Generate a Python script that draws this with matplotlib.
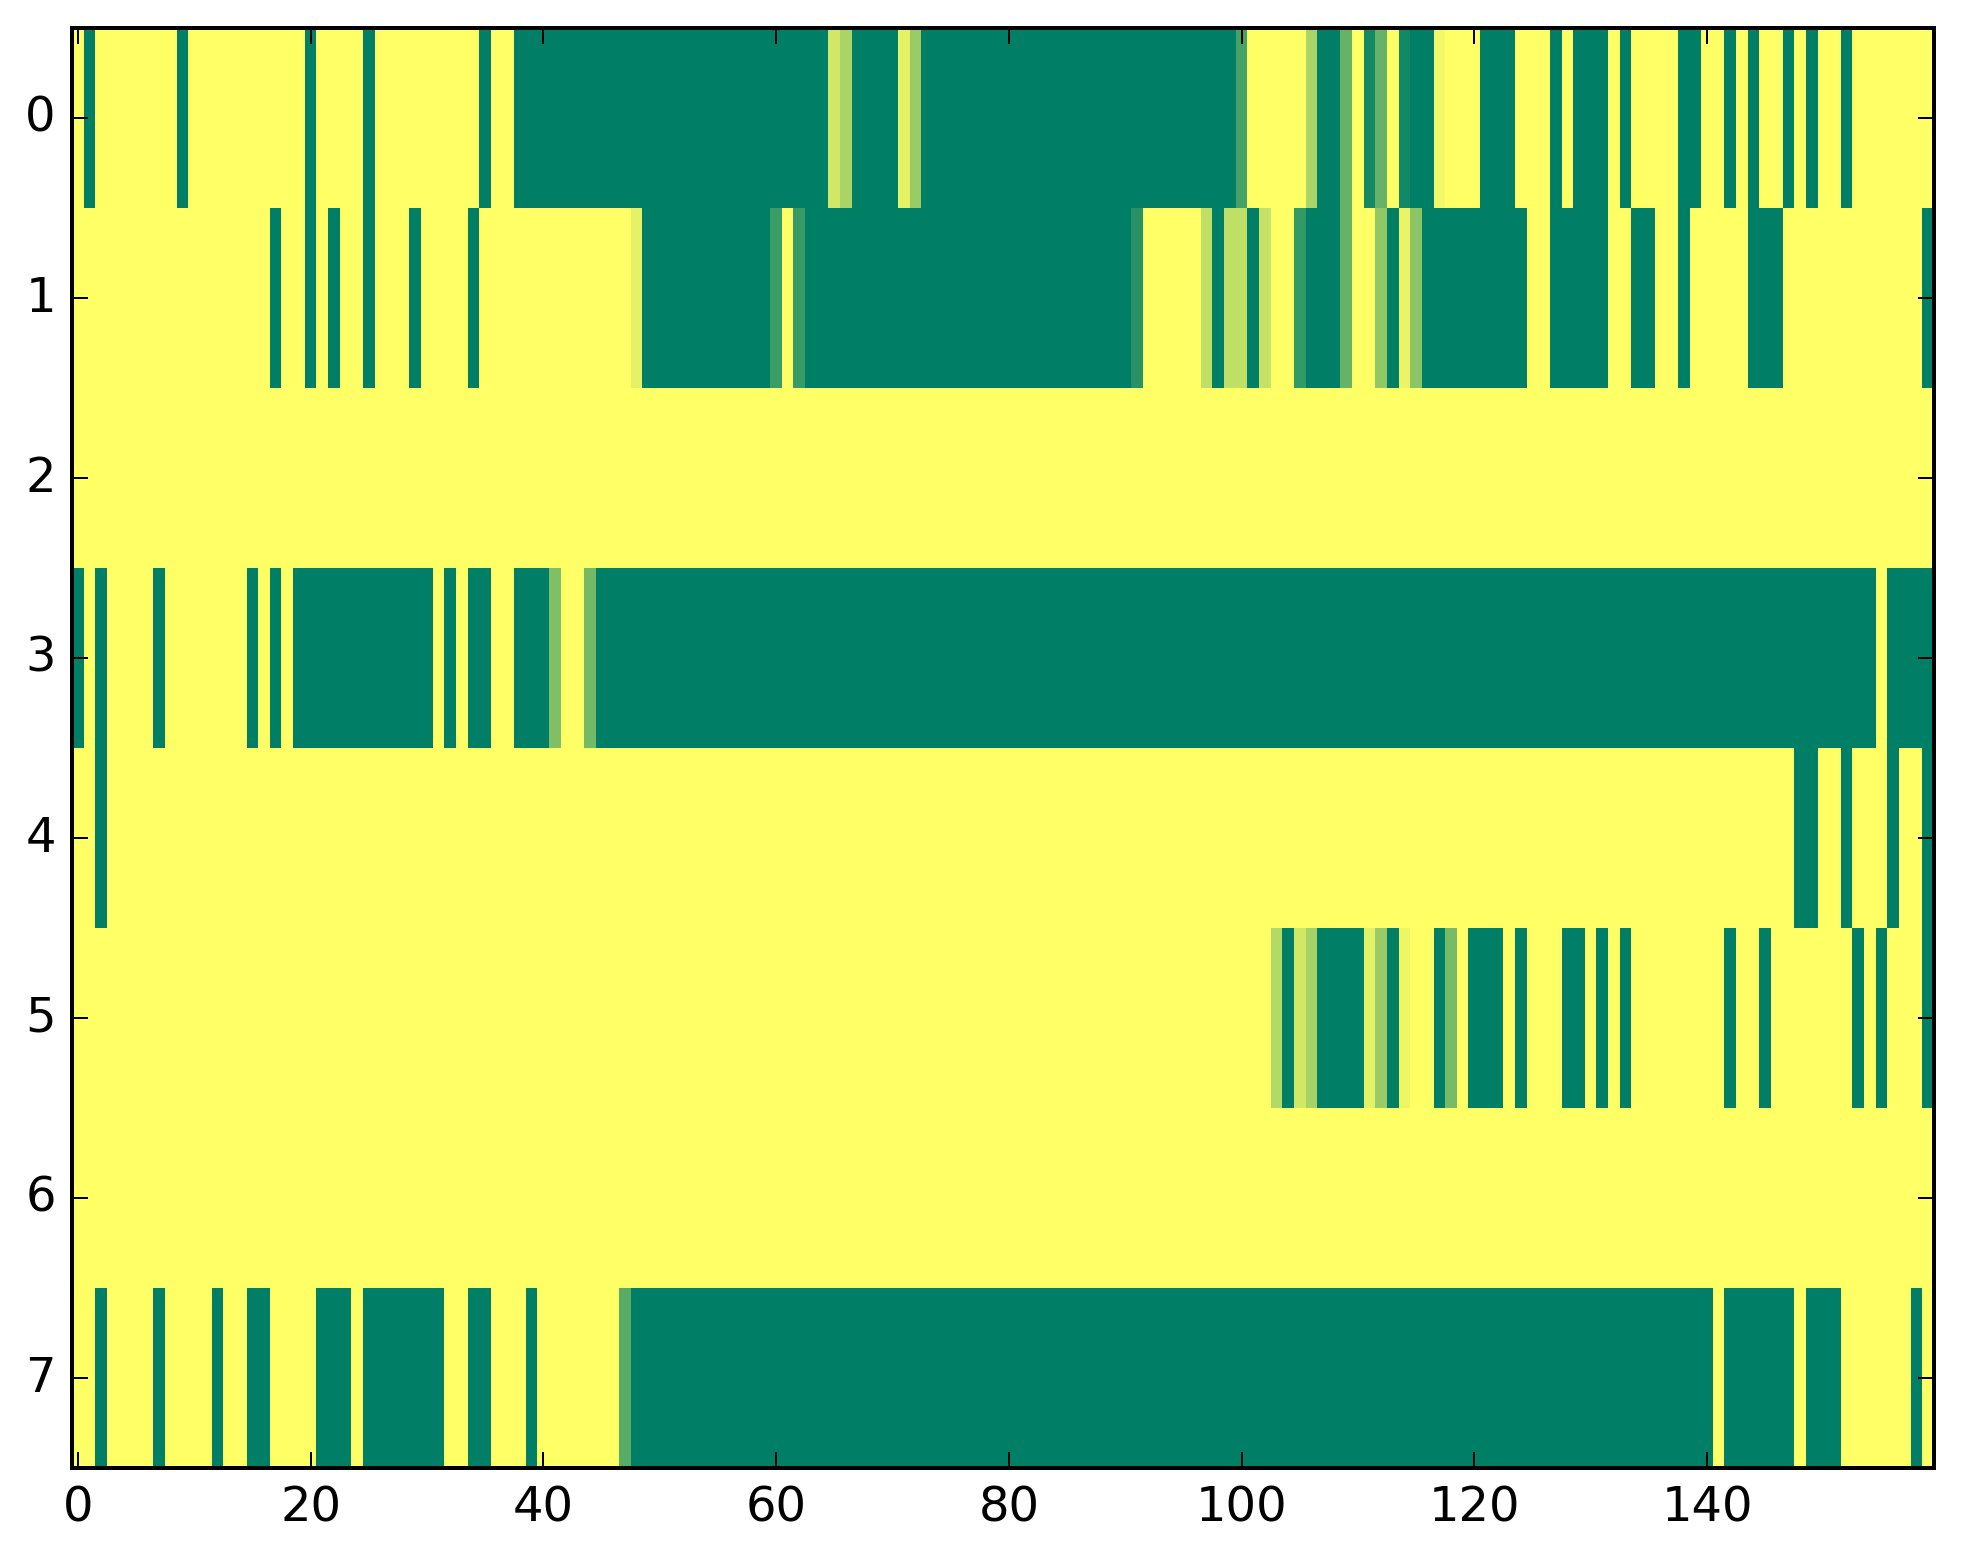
import numpy as np
import matplotlib
matplotlib.use("Agg")
import matplotlib.pyplot as plt

# values per row (0 = dark green, 1 = yellow in the 'summer' colormap), 160 columns each
row0 = [1, 0, 1, 1, 1, 1, 1, 1, 1, 0, 1, 1, 1, 1, 1, 1, 1, 1, 1, 1,
        0, 1, 1, 1, 1, 0, 1, 1, 1, 1, 1, 1, 1, 1, 1, 0, 1, 1, 0, 0,
        0, 0, 0, 0, 0, 0, 0, 0, 0, 0, 0, 0, 0, 0, 0, 0, 0, 0, 0, 0,
        0, 0, 0, 0, 0, .82, .67, 0, 0, 0, 0, .9, .6, 0, 0, 0, 0, 0, 0, 0,
        0, 0, 0, 0, 0, 0, 0, 0, 0, 0, 0, 0, 0, 0, 0, 0, 0, 0, 0, 0,
        .27, 1, 1, 1, 1, 1, .67, 0, 0, .4, 1, .08, .4, 1, .07, 0, 0, .95, 1, 1,
        1, 0, 0, 0, 1, 1, 1, 0, 1, 0, 0, 0, 1, 0, 1, 1, 1, 1, 0, 0,
        1, 1, 0, 1, 0, 1, 1, 0, 1, 0, 1, 1, 0, 1, 1, 1, 1, 1, 1, 1]

row1 = [1, 1, 1, 1, 1, 1, 1, 1, 1, 1, 1, 1, 1, 1, 1, 1, 1, 0, 1, 1,
        0, 1, 0, 1, 1, 0, 1, 1, 1, 0, 1, 1, 1, 1, 0, 1, 1, 1, 1, 1,
        1, 1, 1, 1, 1, 1, 1, 1, .9, 0, 0, 0, 0, 0, 0, 0, 0, 0, 0, 0,
        .23, 1, .22, 0, 0, 0, 0, 0, 0, 0, 0, 0, 0, 0, 0, 0, 0, 0, 0, 0,
        0, 0, 0, 0, 0, 0, 0, 0, 0, 0, 0, .15, 1, 1, 1, 1, 1, .75, 0, .75,
        .75, 0, .77, 1, 1, .2, 0, 0, 0, .4, 1, 1, .57, 0, .92, .55, 0, 0, 0, 0,
        0, 0, 0, 0, 0, 1, 1, 0, 0, 0, 0, 0, 1, 1, 0, 0, 1, 1, 0, 1,
        1, 1, 1, 1, 0, 0, 0, 1, 1, 1, 1, 1, 1, 1, 1, 1, 1, 1, 1, 0]

row2 = [1, 1, 1, 1, 1, 1, 1, 1, 1, 1, 1, 1, 1, 1, 1, 1, 1, 1, 1, 1,
        1, 1, 1, 1, 1, 1, 1, 1, 1, 1, 1, 1, 1, 1, 1, 1, 1, 1, 1, 1,
        1, 1, 1, 1, 1, 1, 1, 1, 1, 1, 1, 1, 1, 1, 1, 1, 1, 1, 1, 1,
        1, 1, 1, 1, 1, 1, 1, 1, 1, 1, 1, 1, 1, 1, 1, 1, 1, 1, 1, 1,
        1, 1, 1, 1, 1, 1, 1, 1, 1, 1, 1, 1, 1, 1, 1, 1, 1, 1, 1, 1,
        1, 1, 1, 1, 1, 1, 1, 1, 1, 1, 1, 1, 1, 1, 1, 1, 1, 1, 1, 1,
        1, 1, 1, 1, 1, 1, 1, 1, 1, 1, 1, 1, 1, 1, 1, 1, 1, 1, 1, 1,
        1, 1, 1, 1, 1, 1, 1, 1, 1, 1, 1, 1, 1, 1, 1, 1, 1, 1, 1, 1]

row3 = [0, 1, 0, 1, 1, 1, 1, 0, 1, 1, 1, 1, 1, 1, 1, 0, 1, 0, 1, 0,
        0, 0, 0, 0, 0, 0, 0, 0, 0, 0, 0, 1, 0, 1, 0, 0, 1, 1, 0, 0,
        0, .5, 1, 1, .45, 0, 0, 0, 0, 0, 0, 0, 0, 0, 0, 0, 0, 0, 0, 0,
        0, 0, 0, 0, 0, 0, 0, 0, 0, 0, 0, 0, 0, 0, 0, 0, 0, 0, 0, 0,
        0, 0, 0, 0, 0, 0, 0, 0, 0, 0, 0, 0, 0, 0, 0, 0, 0, 0, 0, 0,
        0, 0, 0, 0, 0, 0, 0, 0, 0, 0, 0, 0, 0, 0, 0, 0, 0, 0, 0, 0,
        0, 0, 0, 0, 0, 0, 0, 0, 0, 0, 0, 0, 0, 0, 0, 0, 0, 0, 0, 0,
        0, 0, 0, 0, 0, 0, 0, 0, 0, 0, 0, 0, 0, 0, 0, 1, 0, 0, 0, 0]

row4 = [1, 1, 0, 1, 1, 1, 1, 1, 1, 1, 1, 1, 1, 1, 1, 1, 1, 1, 1, 1,
        1, 1, 1, 1, 1, 1, 1, 1, 1, 1, 1, 1, 1, 1, 1, 1, 1, 1, 1, 1,
        1, 1, 1, 1, 1, 1, 1, 1, 1, 1, 1, 1, 1, 1, 1, 1, 1, 1, 1, 1,
        1, 1, 1, 1, 1, 1, 1, 1, 1, 1, 1, 1, 1, 1, 1, 1, 1, 1, 1, 1,
        1, 1, 1, 1, 1, 1, 1, 1, 1, 1, 1, 1, 1, 1, 1, 1, 1, 1, 1, 1,
        1, 1, 1, 1, 1, 1, 1, 1, 1, 1, 1, 1, 1, 1, 1, 1, 1, 1, 1, 1,
        1, 1, 1, 1, 1, 1, 1, 1, 1, 1, 1, 1, 1, 1, 1, 1, 1, 1, 1, 1,
        1, 1, 1, 1, 1, 1, 1, 1, 0, 0, 1, 1, 0, 1, 1, 1, 0, 1, 1, 0]

row5 = [1, 1, 1, 1, 1, 1, 1, 1, 1, 1, 1, 1, 1, 1, 1, 1, 1, 1, 1, 1,
        1, 1, 1, 1, 1, 1, 1, 1, 1, 1, 1, 1, 1, 1, 1, 1, 1, 1, 1, 1,
        1, 1, 1, 1, 1, 1, 1, 1, 1, 1, 1, 1, 1, 1, 1, 1, 1, 1, 1, 1,
        1, 1, 1, 1, 1, 1, 1, 1, 1, 1, 1, 1, 1, 1, 1, 1, 1, 1, 1, 1,
        1, 1, 1, 1, 1, 1, 1, 1, 1, 1, 1, 1, 1, 1, 1, 1, 1, 1, 1, 1,
        1, 1, 1, .7, 0, .82, .65, 0, 0, 0, 0, .89, .6, 0, .93, 1, 1, 0, .47, 1,
        0, 0, 0, 1, 0, 1, 1, 1, 0, 0, 1, 0, 1, 0, 1, 1, 1, 1, 1, 1,
        1, 1, 0, 1, 1, 0, 1, 1, 1, 1, 1, 1, 1, 0, 1, 0, 1, 1, 1, 0]

row6 = list(row2)

row7 = [1, 1, 0, 1, 1, 1, 1, 0, 1, 1, 1, 1, 0, 1, 1, 0, 0, 1, 1, 1,
        1, 0, 0, 0, 1, 0, 0, 0, 0, 0, 0, 0, 1, 1, 0, 0, 1, 1, 1, 0,
        1, 1, 1, 1, 1, 1, 1, .35, 0, 0, 0, 0, 0, 0, 0, 0, 0, 0, 0, 0,
        0, 0, 0, 0, 0, 0, 0, 0, 0, 0, 0, 0, 0, 0, 0, 0, 0, 0, 0, 0,
        0, 0, 0, 0, 0, 0, 0, 0, 0, 0, 0, 0, 0, 0, 0, 0, 0, 0, 0, 0,
        0, 0, 0, 0, 0, 0, 0, 0, 0, 0, 0, 0, 0, 0, 0, 0, 0, 0, 0, 0,
        0, 0, 0, 0, 0, 0, 0, 0, 0, 0, 0, 0, 0, 0, 0, 0, 0, 0, 0, 0,
        0, 1, 0, 0, 0, 0, 0, 0, 1, 0, 0, 0, 1, 1, 1, 1, 1, 1, 0, 1]

x_ticks = [0, 20, 40, 60, 80, 100, 120, 140]
y_ticks = [0, 1, 2, 3, 4, 5, 6, 7]

rows = [row0, row1, row2, row3, row4, row5, row6, row7]
for r in rows:
    assert len(r) == 160, len(r)
data = np.array(rows, dtype=float)

plt.style.use("classic")
plt.rcParams["font.family"] = ["DejaVu Sans"]

W, H, DPI = 1963, 1564, 288
fig = plt.figure(figsize=(W / DPI, H / DPI), dpi=DPI, facecolor="white")
ax = fig.add_axes([72 / W, 1 - 1468 / H, (1934 - 72) / W, (1468 - 28) / H])
ax.imshow(data, cmap="summer", vmin=0, vmax=1, aspect="auto",
          interpolation="nearest")
ax.set_xlim(-0.5, data.shape[1] - 0.5)
ax.set_ylim(data.shape[0] - 0.5, -0.5)
ax.set_xticks(x_ticks)
ax.set_yticks(y_ticks)
ax.tick_params(labelsize=12)
fig.savefig("out.png", dpi=DPI, facecolor="white")
